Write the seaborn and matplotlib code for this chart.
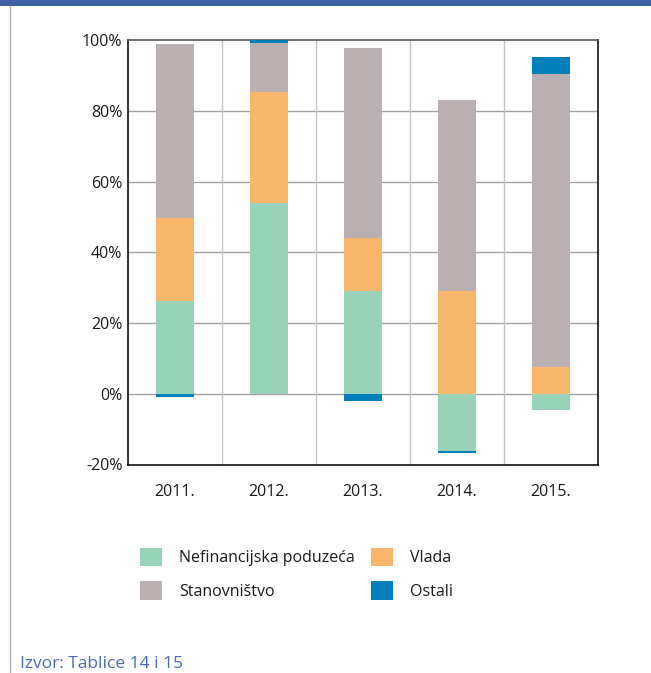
import matplotlib
matplotlib.use("Agg")
import matplotlib.pyplot as plt
import matplotlib.patches as mpatches
import numpy as np
import pandas as pd
import seaborn as sns

years = ["2011.", "2012.", "2013.", "2014.", "2015."]
nefinancijska = [26.3, 54.0, 29.1, -16.2, -4.5]
vlada = [23.4, 31.3, 15.0, 29.1, 7.6]
stanovnistvo = [49.2, 13.9, 53.6, 53.9, 82.8]
ostali = [-1.0, 0.8, -2.0, -0.5, 4.8]

series_names = ["Nefinancijska poduzeća", "Vlada", "Stanovništvo", "Ostali"]
series_vals = [nefinancijska, vlada, stanovnistvo, ostali]
colors = ["#96D3B9", "#F9B66B", "#BAB0B1", "#007FBD"]

sns.set_theme(style="white")
plt.rcParams["font.family"] = ["Open Sans", "DejaVu Sans"]

fig = plt.figure(figsize=(6.51, 6.73), dpi=100)
ax = fig.add_axes([128/651, 1-464.5/673, (598-128)/651, (464.5-40)/673])

pos_base = np.zeros(len(years))
neg_base = np.zeros(len(years))
for name, vals, col in zip(series_names, series_vals, colors):
    v = np.array(vals, dtype=float)
    bottoms = np.where(v >= 0, pos_base, neg_base)
    df = pd.DataFrame({"year": years, "value": v})
    sns.barplot(data=df, x="year", y="value", bottom=bottoms, color=col,
                width=0.4, ax=ax, saturation=1, edgecolor="none", linewidth=0,
                zorder=3)
    pos_base = pos_base + np.where(v >= 0, v, 0)
    neg_base = neg_base + np.where(v < 0, v, 0)

ax.set_xlim(-0.5, 4.5)
ax.set_ylim(-20, 100)
ax.set_yticks([-20, 0, 20, 40, 60, 80, 100])
ax.set_yticklabels([f"{t}%" for t in [-20, 0, 20, 40, 60, 80, 100]])
ax.set_xlabel("")
ax.set_ylabel("")
for yv in [0, 20, 40, 60, 80]:
    ax.axhline(yv, color="#a0a0a0", lw=1.0, zorder=1)
for xv in [0.5, 1.5, 2.5, 3.5]:
    ax.axvline(xv, color="#c4c4c4", lw=1.0, zorder=1)
ax.tick_params(axis="both", length=0, labelsize=11.5, colors="#1a1a1a")
ax.tick_params(axis="y", pad=4)
ax.tick_params(axis="x", pad=14)
for side in ["left", "bottom", "right"]:
    ax.spines[side].set_visible(True)
    ax.spines[side].set_color("#111111")
    ax.spines[side].set_linewidth(1.2)
ax.spines["top"].set_color("#555555")
ax.spines["top"].set_linewidth(1.2)

handles = [mpatches.Patch(facecolor=c, edgecolor="none") for c in colors]
fs = 11.5
fspx = fs * 100 / 72
common = dict(loc="upper left", frameon=False, fontsize=fs,
              handlelength=22/fspx, handleheight=22/fspx,
              handletextpad=17/fspx, labelspacing=15/fspx,
              borderpad=0, borderaxespad=0)
leg1 = fig.legend([handles[0], handles[2]], [series_names[0], series_names[2]],
                  bbox_to_anchor=(140/651, 1-548/673), **common)
leg2 = fig.legend([handles[1], handles[3]], [series_names[1], series_names[3]],
                  bbox_to_anchor=(371/651, 1-548/673), **common)
for lg in (leg1, leg2):
    for t in lg.get_texts():
        t.set_color("#1a1a1a")

# decorative frame elements
fig.patches.append(mpatches.Rectangle((0, 1-6/673), 1, 6/673, transform=fig.transFigure,
                                      facecolor="#3F62A0", edgecolor="none"))
fig.lines.append(plt.Line2D([10/651, 10/651], [0, 1-6/673], transform=fig.transFigure,
                            color="#b0b0b0", lw=1))
fig.text(20/651, 1.5/673, "Izvor: Tablice 14 i 15", fontsize=12.5, color="#4A6CAA",
         va="bottom", ha="left")

fig.savefig("out.png", dpi=100)
